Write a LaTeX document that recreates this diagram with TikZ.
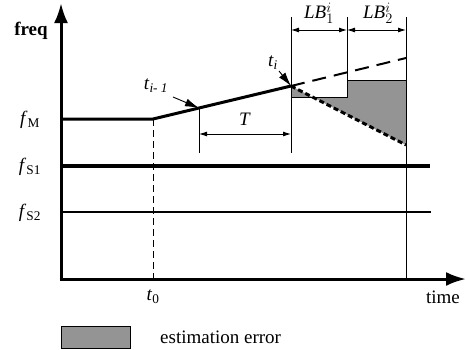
\documentclass[tikz,border=0pt]{standalone}
\usepackage{fontspec}
\setmainfont{Liberation Serif}
\usetikzlibrary{arrows.meta}
\begin{document}
\begin{tikzpicture}[x=1pt,y=-1pt,
  axis/.style={line width=3pt,-{Latex[length=20pt,width=14pt]}},
  thickline/.style={line width=3pt},
  thinline/.style={line width=0.9pt},
  dimarrow/.style={line width=0.9pt,{Latex[length=8pt,width=5pt]}-{Latex[length=8pt,width=5pt]}},
  pointer/.style={line width=0.9pt,-{Latex[length=14pt,width=8pt]}},
  lbl/.style={font=\fontsize{19}{21}\selectfont, inner sep=0pt},
  errfill/.style={fill=black!42}]
\useasboundingbox (0,0) rectangle (466,349);
% coordinates
\coordinate (O) at (61,279);
\coordinate (ytop) at (61,3);
\coordinate (xend) at (466,279);
\coordinate (fM0) at (61,119);
\coordinate (t0) at (153,119);
\coordinate (t0b) at (153,279);
\coordinate (tim1) at (199,108);
\coordinate (tim1b) at (199,153);
\coordinate (ti) at (291,86);
\coordinate (tib) at (291,153);
\coordinate (tit) at (291,17);
\coordinate (s1t) at (347,17);
\coordinate (s1b) at (347,97);
\coordinate (rt) at (406,17);
\coordinate (rb) at (406,279);
\coordinate (dashend) at (406,58);
\coordinate (dotend) at (406,145);
% error region
\fill[errfill] (ti) -- (291,97) -- (347,97) -- (347,80) -- (406,80) -- (dotend) -- cycle;
\draw[thinline] (ti) -- (291,97) -- (347,97) -- (347,80) -- (406,80) -- (dotend);
% vertical guides
\draw[thinline] (tit) -- (tib);
\draw[thinline] (s1t) -- (s1b);
\draw[thinline] (rt) -- (rb);
\draw[thinline] (tim1) -- (tim1b);
\draw[line width=0.9pt, dash pattern=on 7pt off 4pt] (t0) -- (t0b);
% signal lines
\draw[line width=3.5pt] (61,166) -- (430,166);
\draw[line width=2pt] (61,212) -- (431,212);
\draw[thickline] (fM0) -- (t0) -- (ti);
\draw[line width=2pt, dash pattern=on 14pt off 8pt] (ti) -- (dashend);
\draw[line width=3pt, dash pattern=on 5pt off 3pt] (ti) -- (dotend);
% dimension arrows
\draw[dimarrow] (291,30) -- (347,30);
\draw[dimarrow] (347,30) -- (406,30);
\draw[dimarrow] (199,134) -- (291,134);
% axes
\draw[axis] (O) -- (ytop);
\draw[axis] (59.5,279) -- (xend);
% pointers
\draw[pointer] (173,97) -- (tim1);
\draw[pointer] (279,71) -- (ti);
% labels
\node[lbl, font=\fontsize{19}{21}\selectfont\bfseries] (freq) at (31,31) {freq};
\node[lbl] (lfM) at (30,120) {\textit{f}\textsubscript{M}};
\node[lbl] (lfS1) at (30,167) {\textit{f}\textsubscript{S1}};
\node[lbl] (lfS2) at (30,213) {\textit{f}\textsubscript{S2}};
\node[lbl] (lt0) at (153,297) {\textit{t}\textsubscript{0}};
\node[lbl] (ltime) at (443,297) {time};
\node[lbl] (ltim1) at (156,86) {\textit{t}\textsubscript{\textit{i- 1}}};
\node[lbl] (lti) at (273,63) {\textit{t}\textsubscript{\textit{i}}};
\node[lbl] (lT) at (245,119) {\textit{T}};
\node[lbl] (lLB1) at (319,13) {\textit{LB}$^{i}_{1}$};
\node[lbl] (lLB2) at (378,13) {\textit{LB}$^{i}_{2}$};
% legend
\draw[thinline, errfill] (61,326) rectangle (130,348);
\node[lbl, anchor=west] (lerr) at (160,337) {estimation error};
\end{tikzpicture}
\end{document}
